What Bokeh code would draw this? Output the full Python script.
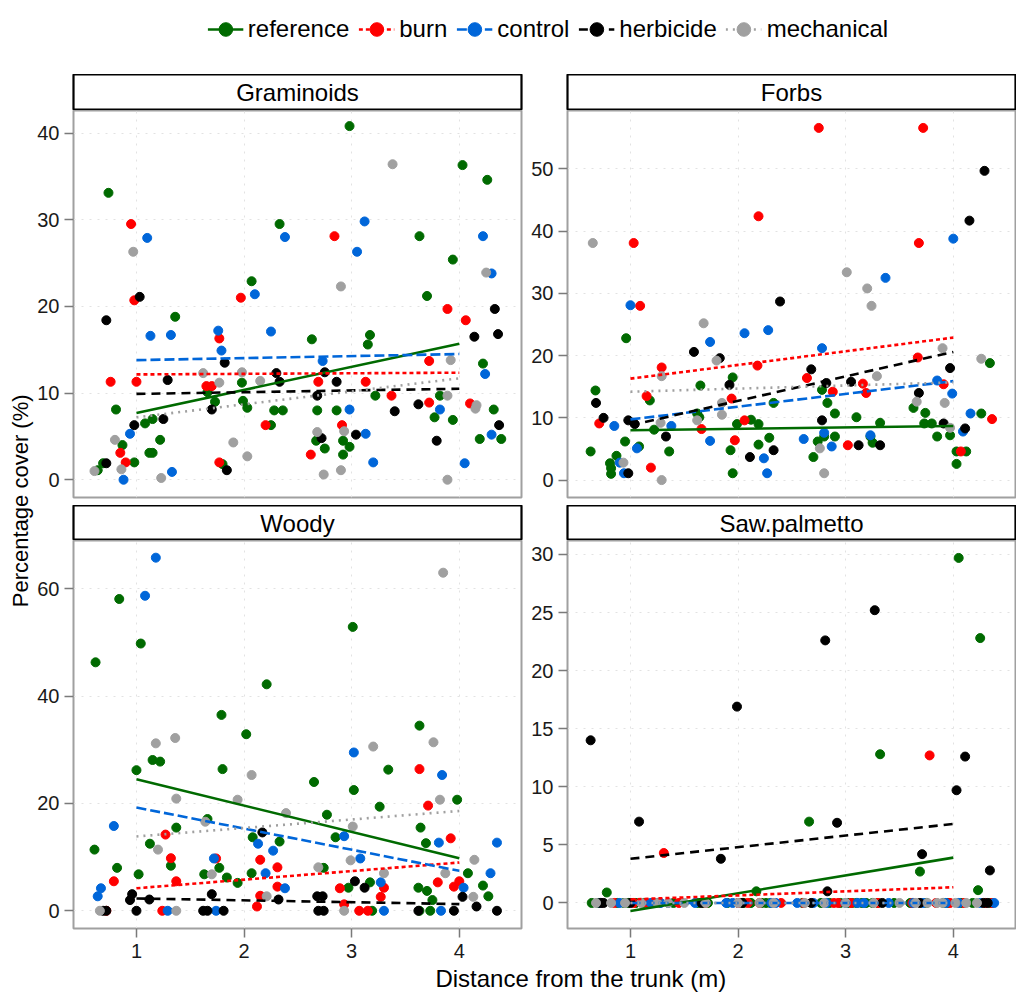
import numpy as np
from bokeh.plotting import figure
from bokeh.layouts import column, row
from bokeh.models import Range1d, FixedTicker, Legend, LegendItem
from bokeh.core.properties import value
from bokeh.embed import file_html
from bokeh.resources import INLINE

# ---------------- data ----------------
groups = ["reference", "burn", "control", "herbicide", "mechanical"]
group_colors = ["#006a00", "#ff0000", "#0066d9", "#000000", "#a0a0a0"]
group_dashes = ["solid", "4 3", "10 4", "9 6", "2 5"]
panel_names = ["Graminoids", "Forbs", "Woody", "Saw.palmetto"]
x_ticks = [1, 2, 3, 4]
fit_x = [1, 4]

# Graminoids
gram_ref_x = [0.64, 0.69, 0.74, 0.81, 0.87, 0.98, 1.08, 1.12, 1.15, 1.15, 1.22, 1.36, 1.66, 1.73, 1.80, 1.98, 1.99, 2.03, 2.07, 2.25, 2.28, 2.33, 2.36, 2.63, 2.67, 2.68, 2.75, 2.86, 2.92, 2.92, 2.98, 2.98, 3.15, 3.17, 3.22, 3.63, 3.70, 3.77, 3.82, 3.94, 3.94, 4.03, 4.19, 4.22, 4.26, 4.32, 4.39]
gram_ref_y = [1.1, 1.9, 33.1, 8.1, 4.0, 2.0, 6.5, 3.1, 7.0, 3.1, 4.6, 18.8, 10.1, 9.0, 1.8, 11.2, 9.1, 8.3, 22.9, 6.3, 8.0, 29.5, 8.0, 16.2, 4.5, 8.0, 3.6, 8.0, 4.5, 2.9, 3.8, 40.8, 15.6, 16.7, 9.7, 28.1, 21.2, 7.2, 9.7, 25.4, 6.9, 36.3, 4.7, 13.4, 34.6, 8.1, 4.7]
gram_burn_x = [0.76, 0.85, 0.90, 0.95, 0.98, 1.00, 1.65, 1.70, 1.77, 1.77, 1.97, 2.20, 2.62, 2.69, 2.84, 2.91, 3.13, 3.37, 3.72, 3.72, 3.89, 4.06, 4.10]
gram_burn_y = [11.3, 3.1, 2.0, 29.5, 20.7, 11.3, 10.8, 10.8, 16.3, 2.0, 21.0, 6.3, 2.9, 11.3, 28.1, 6.3, 11.3, 9.7, 13.7, 8.9, 19.7, 18.4, 8.8]
gram_ctrl_x = [0.88, 0.94, 1.10, 1.13, 1.32, 1.33, 1.76, 1.79, 2.10, 2.25, 2.38, 2.73, 2.98, 3.05, 3.12, 3.13, 3.20, 3.82, 4.05, 4.22, 4.24, 4.30, 4.30]
gram_ctrl_y = [0.0, 5.3, 27.9, 16.6, 16.7, 0.9, 17.2, 14.9, 21.4, 17.1, 28.0, 13.7, 8.1, 26.3, 29.8, 5.3, 2.0, 8.1, 1.9, 28.1, 12.2, 23.8, 5.2]
gram_herb_x = [0.72, 0.72, 0.98, 1.03, 1.25, 1.29, 1.70, 1.82, 1.84, 2.30, 2.33, 2.68, 2.72, 2.75, 2.86, 3.04, 3.40, 3.62, 3.79, 4.14, 4.33, 4.36, 4.37]
gram_herb_y = [18.4, 1.9, 6.3, 21.1, 7.0, 11.5, 8.1, 13.5, 1.1, 12.3, 11.3, 9.7, 4.8, 12.4, 11.3, 5.2, 7.9, 8.7, 4.5, 16.5, 19.7, 16.8, 6.3]
gram_mech_x = [0.61, 0.80, 0.86, 0.97, 1.23, 1.62, 1.77, 1.90, 1.98, 2.03, 2.15, 2.68, 2.74, 2.90, 2.90, 2.93, 3.38, 3.89, 3.89, 3.92, 4.15, 4.16, 4.25]
gram_mech_y = [1.0, 4.6, 1.2, 26.3, 0.2, 12.3, 11.2, 4.3, 12.4, 2.7, 11.4, 5.5, 0.6, 1.1, 22.3, 5.6, 36.4, 9.7, 0.0, 13.8, 8.2, 8.6, 23.9]
gram_fit_start = [7.7, 12.15, 13.8, 9.9, 7.2]
gram_fit_end = [15.7, 12.35, 14.5, 10.5, 11.7]

# Forbs
forb_ref_x = [0.63, 0.675, 0.81, 0.82, 0.82, 0.87, 0.96, 0.95, 1.08, 1.18, 1.22, 1.36, 1.65, 1.62, 1.64, 1.93, 1.95, 1.95, 1.99, 2.12, 2.19, 2.19, 2.29, 2.33, 2.70, 2.74, 2.78, 2.80, 2.83, 2.90, 2.90, 3.10, 3.23, 3.25, 3.32, 3.63, 3.73, 3.74, 3.80, 3.85, 3.97, 4.03, 4.03, 4.12, 4.26, 4.34]
forb_ref_y = [4.6, 14.4, 2.7, 1.9, 1.0, 3.9, 22.8, 6.2, 5.4, 12.8, 8.1, 4.6, 15.2, 10.7, 10.1, 4.8, 16.5, 1.1, 9.0, 9.7, 9.0, 5.7, 6.8, 12.4, 3.7, 6.2, 14.5, 7.0, 12.4, 10.7, 7.0, 10.1, 7.0, 6.0, 9.2, 11.6, 9.1, 10.8, 9.1, 7.0, 7.2, 4.6, 2.6, 4.6, 10.7, 18.8]
forb_burn_x = [0.71, 1.03, 1.09, 1.15, 1.19, 1.29, 1.66, 1.94, 1.97, 2.06, 2.18, 2.19, 2.64, 2.75, 2.88, 3.02, 3.16, 3.19, 3.67, 3.68, 3.72, 3.91, 4.07, 4.36]
forb_burn_y = [9.1, 38.1, 28.0, 13.5, 2.0, 18.1, 8.2, 13.1, 6.4, 9.6, 18.4, 42.4, 16.4, 56.6, 14.2, 5.6, 15.5, 14.0, 19.7, 38.1, 56.6, 15.4, 4.6, 9.8]
forb_ctrl_x = [0.85, 0.90, 0.94, 1.00, 1.06, 1.38, 1.74, 1.74, 2.06, 2.24, 2.27, 2.28, 2.61, 2.78, 2.80, 2.87, 3.23, 3.37, 3.85, 3.99, 4.00, 4.09, 4.16]
forb_ctrl_y = [8.7, 2.8, 1.1, 28.1, 5.1, 8.7, 22.2, 6.3, 23.6, 3.5, 1.1, 24.1, 6.6, 21.2, 7.6, 5.4, 7.2, 32.5, 16.0, 13.9, 38.8, 7.8, 10.7]
forb_herb_x = [0.68, 0.75, 0.98, 0.98, 1.04, 1.33, 1.59, 1.83, 1.92, 2.11, 2.33, 2.39, 2.68, 2.78, 2.82, 3.05, 3.12, 3.32, 3.68, 3.91, 3.97, 4.11, 4.15, 4.29]
forb_herb_y = [12.4, 10.0, 1.1, 9.6, 9.0, 7.0, 20.6, 19.6, 15.3, 3.7, 4.8, 28.7, 17.8, 9.6, 15.6, 15.8, 5.6, 5.6, 14.0, 9.1, 18.0, 8.3, 41.7, 49.7]
forb_mech_x = [0.65, 0.935, 1.28, 1.29, 1.29, 1.62, 1.68, 1.80, 1.85, 1.85, 2.76, 2.80, 3.01, 3.20, 3.24, 3.29, 3.66, 3.90, 3.92, 3.97, 4.26]
forb_mech_y = [38.1, 2.8, 9.2, 16.7, 0.0, 9.6, 25.2, 19.2, 12.4, 10.5, 5.1, 1.1, 33.4, 30.8, 28.0, 16.7, 12.6, 21.2, 12.4, 8.4, 19.5]
forb_fit_start = [8.0, 16.3, 9.75, 8.8, 14.2]
forb_fit_end = [8.7, 22.9, 15.9, 20.6, 15.7]

# Woody
wood_ref_x = [0.62, 0.61, 0.84, 0.82, 1.00, 1.02, 1.04, 1.125, 1.15, 1.22, 1.32, 1.37, 1.63, 1.66, 1.77, 1.79, 1.80, 1.84, 1.94, 2.02, 2.07, 2.08, 2.21, 2.33, 2.65, 2.74, 2.77, 2.85, 2.97, 3.01, 3.02, 3.17, 3.19, 3.26, 3.34, 3.62, 3.63, 3.63, 3.64, 3.69, 3.70, 3.73, 3.75, 3.98, 4.08, 4.22, 4.27]
wood_ref_y = [46.3, 11.4, 58.1, 8.0, 26.2, 6.8, 49.8, 12.5, 28.1, 27.8, 8.4, 15.5, 6.8, 17.1, 8.0, 36.5, 26.4, 6.2, 5.2, 32.9, 7.0, 13.7, 42.2, 12.9, 24.0, 8.0, 17.9, 13.7, 4.3, 52.9, 22.5, 5.3, 0.0, 19.4, 26.3, 4.3, 0.0, 34.5, 15.5, 12.6, 3.7, 0.0, 2.0, 20.7, 7.0, 4.7, 2.7]
wood_burn_x = [0.72, 0.79, 1.24, 1.27, 1.32, 1.37, 1.74, 2.12, 2.15, 2.15, 2.31, 2.31, 2.89, 2.93, 3.07, 3.15, 3.27, 3.30, 3.63, 3.71, 3.80, 3.92, 3.95, 4.00]
wood_burn_y = [0.0, 5.5, 0.0, 14.2, 9.8, 5.5, 9.75, 0.8, 9.5, 2.8, 8.1, 4.5, 4.2, 1.2, 0.0, 0.0, 2.6, 4.3, 26.4, 19.6, 5.3, 13.5, 4.5, 5.5]
wood_ctrl_x = [0.64, 0.67, 0.79, 1.08, 1.18, 1.29, 1.72, 1.74, 2.13, 2.20, 2.27, 2.38, 2.93, 3.02, 3.08, 3.27, 3.30, 3.81, 3.83, 3.84, 4.04, 4.29, 4.35]
wood_ctrl_y = [2.7, 4.2, 15.8, 58.7, 65.8, 0.0, 9.75, 0.0, 12.5, 7.0, 11.2, 4.2, 13.9, 29.5, 9.75, 5.3, 0.0, 12.7, 0.0, 25.3, 4.3, 7.0, 12.7]
wood_herb_x = [0.69, 0.72, 0.94, 0.96, 1.00, 1.12, 1.62, 1.66, 1.70, 1.81, 2.17, 2.32, 2.68, 2.73, 2.69, 2.74, 3.03, 3.12, 3.62, 3.95, 4.03, 4.16, 4.35]
wood_herb_y = [0.0, 0.0, 2.0, 3.1, 0.0, 2.1, 0.0, 0.0, 3.1, 0.0, 14.6, 2.1, 2.7, 2.7, 0.0, 0.0, 5.5, 4.3, 0.0, 0.0, 2.6, 0.8, 0.0]
wood_mech_x = [0.66, 1.18, 1.36, 1.37, 1.20, 1.37, 1.64, 1.70, 1.94, 2.07, 2.21, 2.39, 2.69, 2.93, 2.99, 3.01, 3.20, 3.30, 3.76, 3.82, 3.85, 3.87, 4.14, 4.13]
wood_mech_y = [0.0, 31.2, 32.2, 20.9, 11.4, 0.0, 16.6, 6.8, 20.7, 25.3, 2.7, 18.2, 8.1, 0.0, 9.4, 15.7, 30.6, 7.0, 31.4, 20.7, 63.0, 7.0, 9.5, 2.6]
wood_fit_start = [24.5, 4.2, 19.25, 2.3, 13.85]
wood_fit_end = [9.8, 9.0, 7.45, 1.25, 18.6]

# Saw.palmetto
saw_ref_x = [0.78, 2.17, 2.66, 3.32, 3.69, 4.05, 4.25, 4.23, 0.64, 0.88, 0.94, 1.12, 1.20, 1.63, 1.68, 2.00, 2.05, 2.22, 2.30, 2.77, 2.95, 3.02, 3.10, 3.19, 3.25, 3.45, 3.91, 4.07, 4.18, 4.35, 0.70, 0.98, 1.05, 1.27, 1.40, 1.72, 1.90, 2.12, 2.26, 2.60, 2.85, 3.06, 3.15, 3.30, 3.60, 3.75, 3.95]
saw_ref_y = [0.9, 1.0, 7.0, 12.8, 2.7, 29.7, 22.8, 1.1, 0, 0, 0, 0, 0, 0, 0, 0, 0, 0, 0, 0, 0, 0, 0, 0, 0, 0, 0, 0, 0, 0, 0, 0, 0, 0, 0, 0, 0, 0, 0, 0, 0, 0, 0, 0, 0, 0, 0]
saw_burn_x = [1.31, 3.78, 0.85, 1.03, 1.15, 2.09, 2.61, 2.89, 2.93, 3.84, 4.30, 4.36, 0.73, 1.70, 2.00, 2.20, 3.05, 3.30, 3.62, 3.97, 4.10, 1.45, 2.40]
saw_burn_y = [4.3, 12.7, 0, 0, 0, 0, 0, 0, 0, 0, 0, 0, 0, 0, 0, 0, 0, 0, 0, 0, 0, 0, 0]
saw_ctrl_x = [0.72, 1.19, 1.28, 1.35, 1.89, 2.31, 2.35, 2.70, 2.82, 3.11, 3.17, 3.63, 3.72, 3.93, 4.38, 1.95, 2.55, 0.90, 1.60, 3.00, 3.40, 4.05, 4.25]
saw_ctrl_y = [0, 0, 0, 0, 0, 0, 0, 0, 0, 0, 0, 0, 0, 0, 0, 0, 0, 0, 0, 0, 0, 0, 0]
saw_herb_x = [0.63, 1.08, 1.84, 1.99, 2.81, 2.83, 2.92, 3.27, 3.71, 4.03, 4.11, 4.34, 0.72, 0.75, 1.00, 1.25, 1.66, 2.04, 2.68, 3.34, 3.69, 4.28, 4.32]
saw_herb_y = [14.0, 7.0, 3.8, 16.9, 22.6, 1.0, 6.9, 25.2, 4.2, 9.7, 12.6, 2.8, 0, 0, 0, 0, 0, 0, 0, 0, 0, 0, 0]
saw_mech_x = [0.68, 0.82, 1.10, 1.25, 1.35, 1.70, 2.00, 2.20, 2.33, 2.62, 3.00, 3.26, 3.65, 3.76, 3.85, 4.12, 4.22, 0.95, 1.50, 2.80, 3.50, 3.90, 4.02]
saw_mech_y = [0, 0, 0, 0, 0, 0, 0, 0, 0, 0, 0, 0, 0, 0, 0, 0, 0, 0, 0, 0, 0, 0, 0]
saw_fit_start = [-0.7, 0.3, 0.0, 3.8, 0.0]
saw_fit_end = [3.9, 1.35, 0.0, 6.8, 0.0]

gram_yticks = [0, 10, 20, 30, 40]
forb_yticks = [0, 10, 20, 30, 40, 50]
wood_yticks = [0, 20, 40, 60]
saw_yticks = [0, 5, 10, 15, 20, 25, 30]

# ---------------- styling ----------------
FONT = "Liberation Sans"
X_RANGE = (0.415, 4.578)
LEFT_BORDER_L = 39   # left column panels
LEFT_BORDER_R = 42   # right column panels


def make_strip(name, left_col, height):
    s = figure(frame_width=448, frame_height=height, x_range=Range1d(0, 1), y_range=Range1d(0, 1),
               x_axis_type=None, y_axis_type=None, output_backend="svg", toolbar_location=None,
               min_border_left=LEFT_BORDER_L if left_col else LEFT_BORDER_R,
               min_border_right=4 if left_col else 1,
               min_border_top=0, min_border_bottom=0)
    s.outline_line_color = "black"
    s.outline_line_width = 2.2
    s.grid.visible = False
    s.text(x=[0.5], y=[0.5], text=[name], text_font=value(FONT), text_font_size="24px",
           text_align="center", text_baseline="middle", text_color="black")
    return s


def make_panel(xs, ys, f_start, f_end, yr, yticks, left_col, bottom_row):
    p = figure(frame_width=448, frame_height=388 if bottom_row else 387,
               x_range=Range1d(*X_RANGE), y_range=Range1d(*yr),
               output_backend="svg", toolbar_location=None,
               min_border_left=LEFT_BORDER_L if left_col else LEFT_BORDER_R,
               min_border_right=4 if left_col else 1,
               min_border_top=0, min_border_bottom=36 if bottom_row else 8)
    p.outline_line_color = "#a0a0a0"
    p.outline_line_width = 2
    p.xaxis.ticker = FixedTicker(ticks=x_ticks)
    p.yaxis.ticker = FixedTicker(ticks=yticks)
    p.xgrid.ticker = FixedTicker(ticks=x_ticks)
    p.ygrid.ticker = FixedTicker(ticks=yticks)
    p.grid.grid_line_color = "#e2e2e2"
    p.grid.grid_line_dash = "2 6"
    p.grid.grid_line_width = 1
    for ax in (p.xaxis, p.yaxis):
        ax.axis_line_color = None
        ax.major_tick_line_color = "#7a7a7a"
        ax.major_tick_line_width = 1.5
        ax.major_tick_in = 0
        ax.minor_tick_line_color = None
        ax.major_label_text_font = FONT
        ax.major_label_text_font_size = "20px"
        ax.major_label_text_color = "#1a1a1a"
    p.yaxis.major_tick_out = 9
    p.yaxis.major_label_standoff = 5
    p.xaxis.major_tick_out = 9
    p.xaxis.major_label_standoff = 6
    if not bottom_row:
        p.xaxis.visible = False
    for gx, gy, col in zip(xs, ys, group_colors):
        p.scatter(x=gx, y=gy, size=9, marker="circle", fill_color=col, line_color=col)
    for s0, s1, col, dash in zip(f_start, f_end, group_colors, group_dashes):
        p.line(x=fit_x, y=[s0, s1], line_color=col, line_width=2.6, line_dash=dash)
    return p


fig_g = make_panel([gram_ref_x, gram_burn_x, gram_ctrl_x, gram_herb_x, gram_mech_x],
                   [gram_ref_y, gram_burn_y, gram_ctrl_y, gram_herb_y, gram_mech_y],
                   gram_fit_start, gram_fit_end, (-2.05, 42.6), gram_yticks, True, False)
fig_f = make_panel([forb_ref_x, forb_burn_x, forb_ctrl_x, forb_herb_x, forb_mech_x],
                   [forb_ref_y, forb_burn_y, forb_ctrl_y, forb_herb_y, forb_mech_y],
                   forb_fit_start, forb_fit_end, (-2.8, 59.4), forb_yticks, False, False)
fig_w = make_panel([wood_ref_x, wood_burn_x, wood_ctrl_x, wood_herb_x, wood_mech_x],
                   [wood_ref_y, wood_burn_y, wood_ctrl_y, wood_herb_y, wood_mech_y],
                   wood_fit_start, wood_fit_end, (-3.3, 69.0), wood_yticks, True, True)
fig_s = make_panel([saw_ref_x, saw_burn_x, saw_ctrl_x, saw_herb_x, saw_mech_x],
                   [saw_ref_y, saw_burn_y, saw_ctrl_y, saw_herb_y, saw_mech_y],
                   saw_fit_start, saw_fit_end, (-2.2, 31.2), saw_yticks, False, True)

strip_g = make_strip(panel_names[0], True, 36)
strip_f = make_strip(panel_names[1], False, 36)
strip_w = make_strip(panel_names[2], True, 35)
strip_s = make_strip(panel_names[3], False, 35)

# legend figure (key glyphs only; no data drawn)
leg_fig = figure(width=1016, height=74, x_range=Range1d(0, 1), y_range=Range1d(0, 1),
                 x_axis_type=None, y_axis_type=None, output_backend="svg", toolbar_location=None,
                 min_border_left=79, min_border_right=0, min_border_top=8, min_border_bottom=24)
leg_fig.outline_line_color = None
items = []
for g, col, dash in zip(groups, group_colors, group_dashes):
    r1 = leg_fig.line(x=[np.nan], y=[np.nan], line_color=col, line_width=2.6, line_dash=dash)
    r2 = leg_fig.scatter(x=[np.nan], y=[np.nan], size=9, marker="circle", fill_color=col, line_color=col)
    items.append(LegendItem(label=g, renderers=[r1, r2]))
legend = Legend(items=items, orientation="horizontal", location="center",
                label_text_font=FONT, label_text_font_size="24px", label_text_color="black",
                glyph_width=36, glyph_height=34, label_standoff=5, spacing=9,
                padding=0, margin=0, border_line_color=None, background_fill_alpha=0)
leg_fig.add_layout(legend, "center")

# y axis title
ylab_fig = figure(width=34, height=890, x_range=Range1d(0, 1), y_range=Range1d(0, 1),
                  x_axis_type=None, y_axis_type=None, output_backend="svg", toolbar_location=None,
                  min_border_left=0, min_border_right=0, min_border_top=0, min_border_bottom=0)
ylab_fig.outline_line_color = None
ylab_fig.text(x=[0.59], y=[0.521], text=["Percentage cover (%)"], angle=np.pi / 2,
              text_font=value(FONT), text_font_size="22px", text_align="center",
              text_baseline="middle", text_color="black")

# x axis title
xlab_fig = figure(width=1016, height=33, x_range=Range1d(0, 1), y_range=Range1d(0, 1),
                  x_axis_type=None, y_axis_type=None, output_backend="svg", toolbar_location=None,
                  min_border_left=0, min_border_right=0, min_border_top=0, min_border_bottom=0)
xlab_fig.outline_line_color = None
xlab_fig.text(x=[0.535], y=[0.97], text=["Distance from the trunk (m)"],
              text_font=value(FONT), text_font_size="24px", text_align="center",
              text_baseline="top", text_color="black")

left_col = column(strip_g, fig_g, strip_w, fig_w)
right_col = column(strip_f, fig_f, strip_s, fig_s)
page = column(leg_fig, row(ylab_fig, left_col, right_col), xlab_fig)

open("out.html", "w").write(file_html(page, INLINE))
